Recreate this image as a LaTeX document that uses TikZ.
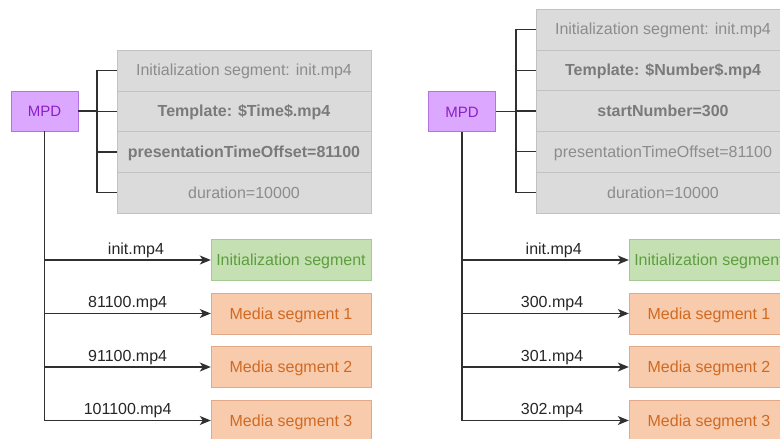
\documentclass[tikz,border=0pt]{standalone}
\usepackage{fontspec}
\setmainfont{Liberation Sans}
\usetikzlibrary{arrows.meta}

\definecolor{mpdfill}{HTML}{DCA8FF}
\definecolor{mpdline}{HTML}{B274E0}
\definecolor{mpdtext}{HTML}{8A1FC8}
\definecolor{fieldfill}{HTML}{DBDBDB}
\definecolor{fieldline}{HTML}{C2C2C2}
\definecolor{fieldtext}{HTML}{8C8C8C}
\definecolor{fieldbold}{HTML}{7A7A7A}
\definecolor{initfill}{HTML}{C5E0B3}
\definecolor{initline}{HTML}{A6C893}
\definecolor{inittext}{HTML}{5E9E3E}
\definecolor{segfill}{HTML}{F8CBAD}
\definecolor{segline}{HTML}{E3A887}
\definecolor{segtext}{HTML}{D06A22}
\definecolor{wire}{HTML}{303030}

\newcommand{\diagfont}{\fontsize{16}{19}\selectfont}

\tikzset{
    box/.style={inner sep=0pt, text height=11pt, text depth=0pt},
    mpd/.style={box, draw=mpdline, fill=mpdfill, text=mpdtext, font=\fontsize{15}{18}\selectfont,
        minimum width=67pt, minimum height=40pt},
    field/.style={box, draw=fieldline, fill=fieldfill, text=fieldtext, font=\diagfont,
        minimum width=254pt, minimum height=40.8pt},
    keyfield/.style={field, text=fieldbold, font=\diagfont\bfseries},
    initseg/.style={box, draw=initline, fill=initfill, text=inittext, font=\diagfont,
        minimum width=160pt, minimum height=41pt},
    mediaseg/.style={initseg, draw=segline, fill=segfill, text=segtext},
    wireline/.style={draw=wire, line width=1.3pt},
    fetch/.style={wireline, -{Stealth[length=11pt, width=9pt, inset=3pt]}},
    url/.style={above, inner sep=2pt, font=\diagfont, text=black!85}
}

\begin{document}
\begin{tikzpicture}[x=1pt, y=-1pt]
    \useasboundingbox (0,0) rectangle (780,439);

    % time based template
    \node[mpd] (mpdA) at (44.5,111) {MPD};
    \node[field]    (tA1) at (244,70.4)  {Initialization segment: init.mp4};
    \node[keyfield] (tA2) at (244,111.2) {Template: \$Time\$.mp4};
    \node[keyfield] (tA3) at (244,152.0) {presentationTimeOffset=81100};
    \node[field]    (tA4) at (244,192.8) {duration=10000};

    \coordinate (busA) at (97,111);
    \draw[wireline] (mpdA.east) -- (busA |- mpdA.east);
    \draw[wireline] (busA |- tA1.west) -- (busA |- tA4.west);
    \foreach \r in {1,...,4}
        \draw[wireline] (busA |- tA\r.west) -- (tA\r.west);

    \node[initseg]  (sA0) at (291,260)   {Initialization segment};
    \node[mediaseg] (sA1) at (291,313.5) {Media segment 1};
    \node[mediaseg] (sA2) at (291,367)   {Media segment 2};
    \node[mediaseg] (sA3) at (291,420.5) {Media segment 3};

    \draw[wireline] (mpdA.south) -- (mpdA.south |- sA3.west);
    \draw[fetch] (mpdA.south |- sA0.west) -- node[url, pos=0.55] {init.mp4} (sA0.west);
    \draw[fetch] (mpdA.south |- sA1.west) -- node[url] {81100.mp4} (sA1.west);
    \draw[fetch] (mpdA.south |- sA2.west) -- node[url] {91100.mp4} (sA2.west);
    \draw[fetch] (mpdA.south |- sA3.west) -- node[url] {101100.mp4} (sA3.west);

    % number based template
    \node[mpd] (mpdB) at (462,111.5) {MPD};
    \node[field]    (tB1) at (663,29.4)  {Initialization segment: init.mp4};
    \node[keyfield] (tB2) at (663,70.2)  {Template: \$Number\$.mp4};
    \node[keyfield] (tB3) at (663,111.0) {startNumber=300};
    \node[field]    (tB4) at (663,151.8) {presentationTimeOffset=81100};
    \node[field]    (tB5) at (663,192.6) {duration=10000};

    \coordinate (busB) at (516,111);
    \draw[wireline] (mpdB.east) -- (busB |- mpdB.east);
    \draw[wireline] (busB |- tB1.west) -- (busB |- tB5.west);
    \foreach \r in {1,...,5}
        \draw[wireline] (busB |- tB\r.west) -- (tB\r.west);

    \node[initseg]  (sB0) at (709,260)   {Initialization segment};
    \node[mediaseg] (sB1) at (709,313.5) {Media segment 1};
    \node[mediaseg] (sB2) at (709,367)   {Media segment 2};
    \node[mediaseg] (sB3) at (709,420.5) {Media segment 3};

    \draw[wireline] (mpdB.south) -- (mpdB.south |- sB3.west);
    \draw[fetch] (mpdB.south |- sB0.west) -- node[url, pos=0.55] {init.mp4} (sB0.west);
    \draw[fetch] (mpdB.south |- sB1.west) -- node[url, pos=0.54] {300.mp4} (sB1.west);
    \draw[fetch] (mpdB.south |- sB2.west) -- node[url, pos=0.54] {301.mp4} (sB2.west);
    \draw[fetch] (mpdB.south |- sB3.west) -- node[url, pos=0.54] {302.mp4} (sB3.west);
\end{tikzpicture}
\end{document}
